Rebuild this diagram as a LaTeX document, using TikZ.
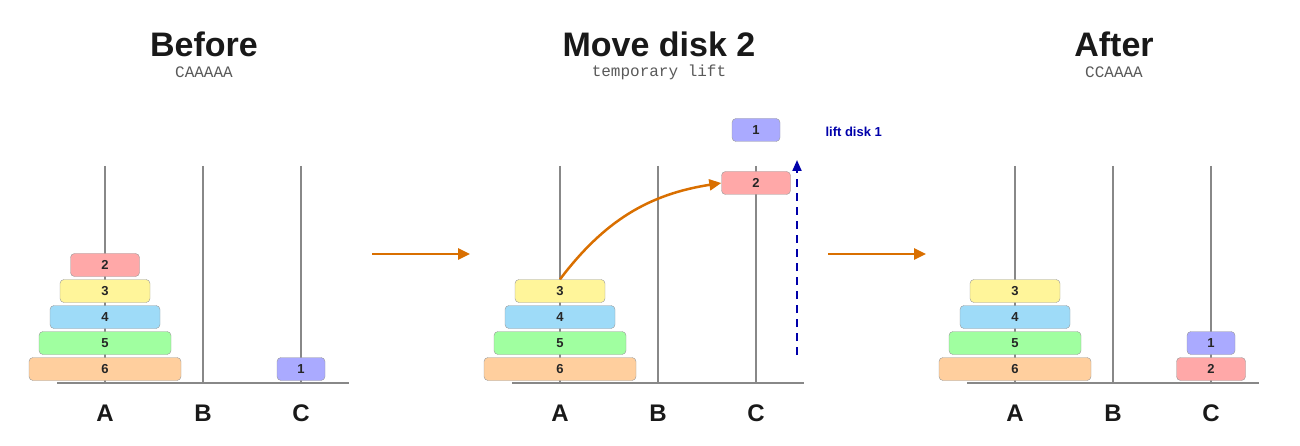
\documentclass[tikz,border=0pt]{standalone}
\usepackage{fontspec}
\setmainfont{Liberation Sans}
\setmonofont{Liberation Mono}
\usetikzlibrary{arrows.meta}
\definecolor{pegc}{HTML}{888888}
\definecolor{orng}{HTML}{D96F00}
\definecolor{dk}{HTML}{0000AA}
\definecolor{c1}{HTML}{AAAAFF}
\definecolor{c2}{HTML}{FFA8A8}
\definecolor{c3}{HTML}{FFF59A}
\definecolor{c4}{HTML}{9EDBF8}
\definecolor{c5}{HTML}{A0FFA0}
\definecolor{c6}{HTML}{FFCF9E}
\tikzset{
 peg/.style={draw=pegc,line width=2pt},
 disk/.style={draw=gray!80,rounded corners=4pt,minimum height=23pt,inner sep=0pt,font=\bfseries\fontsize{13}{13}\selectfont,text=black!85},
 d1/.style={disk,fill=c1,minimum width=48pt},
 d2/.style={disk,fill=c2,minimum width=69pt},
 d3/.style={disk,fill=c3,minimum width=90pt},
 d4/.style={disk,fill=c4,minimum width=110pt},
 d5/.style={disk,fill=c5,minimum width=132pt},
 d6/.style={disk,fill=c6,minimum width=152pt},
 lab/.style={font=\bfseries\fontsize{24}{24}\selectfont,text=black!90},
 ttl/.style={font=\bfseries\fontsize{34}{34}\selectfont,text=black!90},
 sub/.style={font=\ttfamily\fontsize{16}{16}\selectfont,text=black!65},
 movearrow/.style={orng,line width=2.5pt,-{Triangle[length=12pt,width=11pt]}},
}
\begin{document}
\begin{tikzpicture}[x=1pt,y=-1pt]
\useasboundingbox (0,0) rectangle (1300,446);
\foreach \o/\n in {0/a,455/b,910/c}{
  \draw[peg] (\o+57,383) -- (\o+349,383);
  \foreach \dx/\p in {105/A,203/B,301/C}{
    \draw[peg] (\o+\dx,166) -- (\o+\dx,383);
    \node[lab] (\n\p) at (\o+\dx,413) {\p};
  }
}
% panel 1
\node[ttl] (t1) at (204,44) {Before};
\node[sub] (s1) at (204,72) {CAAAAA};
\node[d6] (a6) at (105,369) {6};
\node[d5] (a5) at (105,343) {5};
\node[d4] (a4) at (105,317) {4};
\node[d3] (a3) at (105,291) {3};
\node[d2] (a2) at (105,265) {2};
\node[d1] (a1) at (301,369) {1};
% panel 2
\node[ttl] (t2) at (659,44) {Move disk 2};
\node[sub] (s2) at (659,72) {temporary lift};
\node[d6] (b6) at (560,369) {6};
\node[d5] (b5) at (560,343) {5};
\node[d4] (b4) at (560,317) {4};
\node[d3] (b3) at (560,291) {3};
\node[d2] (b2) at (756,183) {2};
\node[d1] (b1) at (756,130) {1};
\node[font=\bfseries\fontsize{13}{13}\selectfont,text=dk,anchor=west] (lt) at (822,132) {lift disk 1};
\coordinate (lf) at (797,355);
\coordinate (lt2) at (797,160);
\draw[dk,line width=2pt,dash pattern=on 8pt off 6pt,-{Triangle[length=11pt,width=9pt]}] (lf) -- (lt2);
\draw[movearrow] (b3.north) to[bend left=22] (b2.west);
% panel 3
\node[ttl] (t3) at (1114,44) {After};
\node[sub] (s3) at (1114,72) {CCAAAA};
\node[d6] (c6) at (1015,369) {6};
\node[d5] (c5) at (1015,343) {5};
\node[d4] (c4) at (1015,317) {4};
\node[d3] (c3) at (1015,291) {3};
\node[d2] (c2) at (1211,369) {2};
\node[d1] (c1) at (1211,343) {1};
% step arrows
\coordinate (p1) at (372,254); \coordinate (q1) at (470,254);
\coordinate (p2) at (828,254); \coordinate (q2) at (926,254);
\draw[movearrow] (p1) -- (q1);
\draw[movearrow] (p2) -- (q2);
\end{tikzpicture}
\end{document}
